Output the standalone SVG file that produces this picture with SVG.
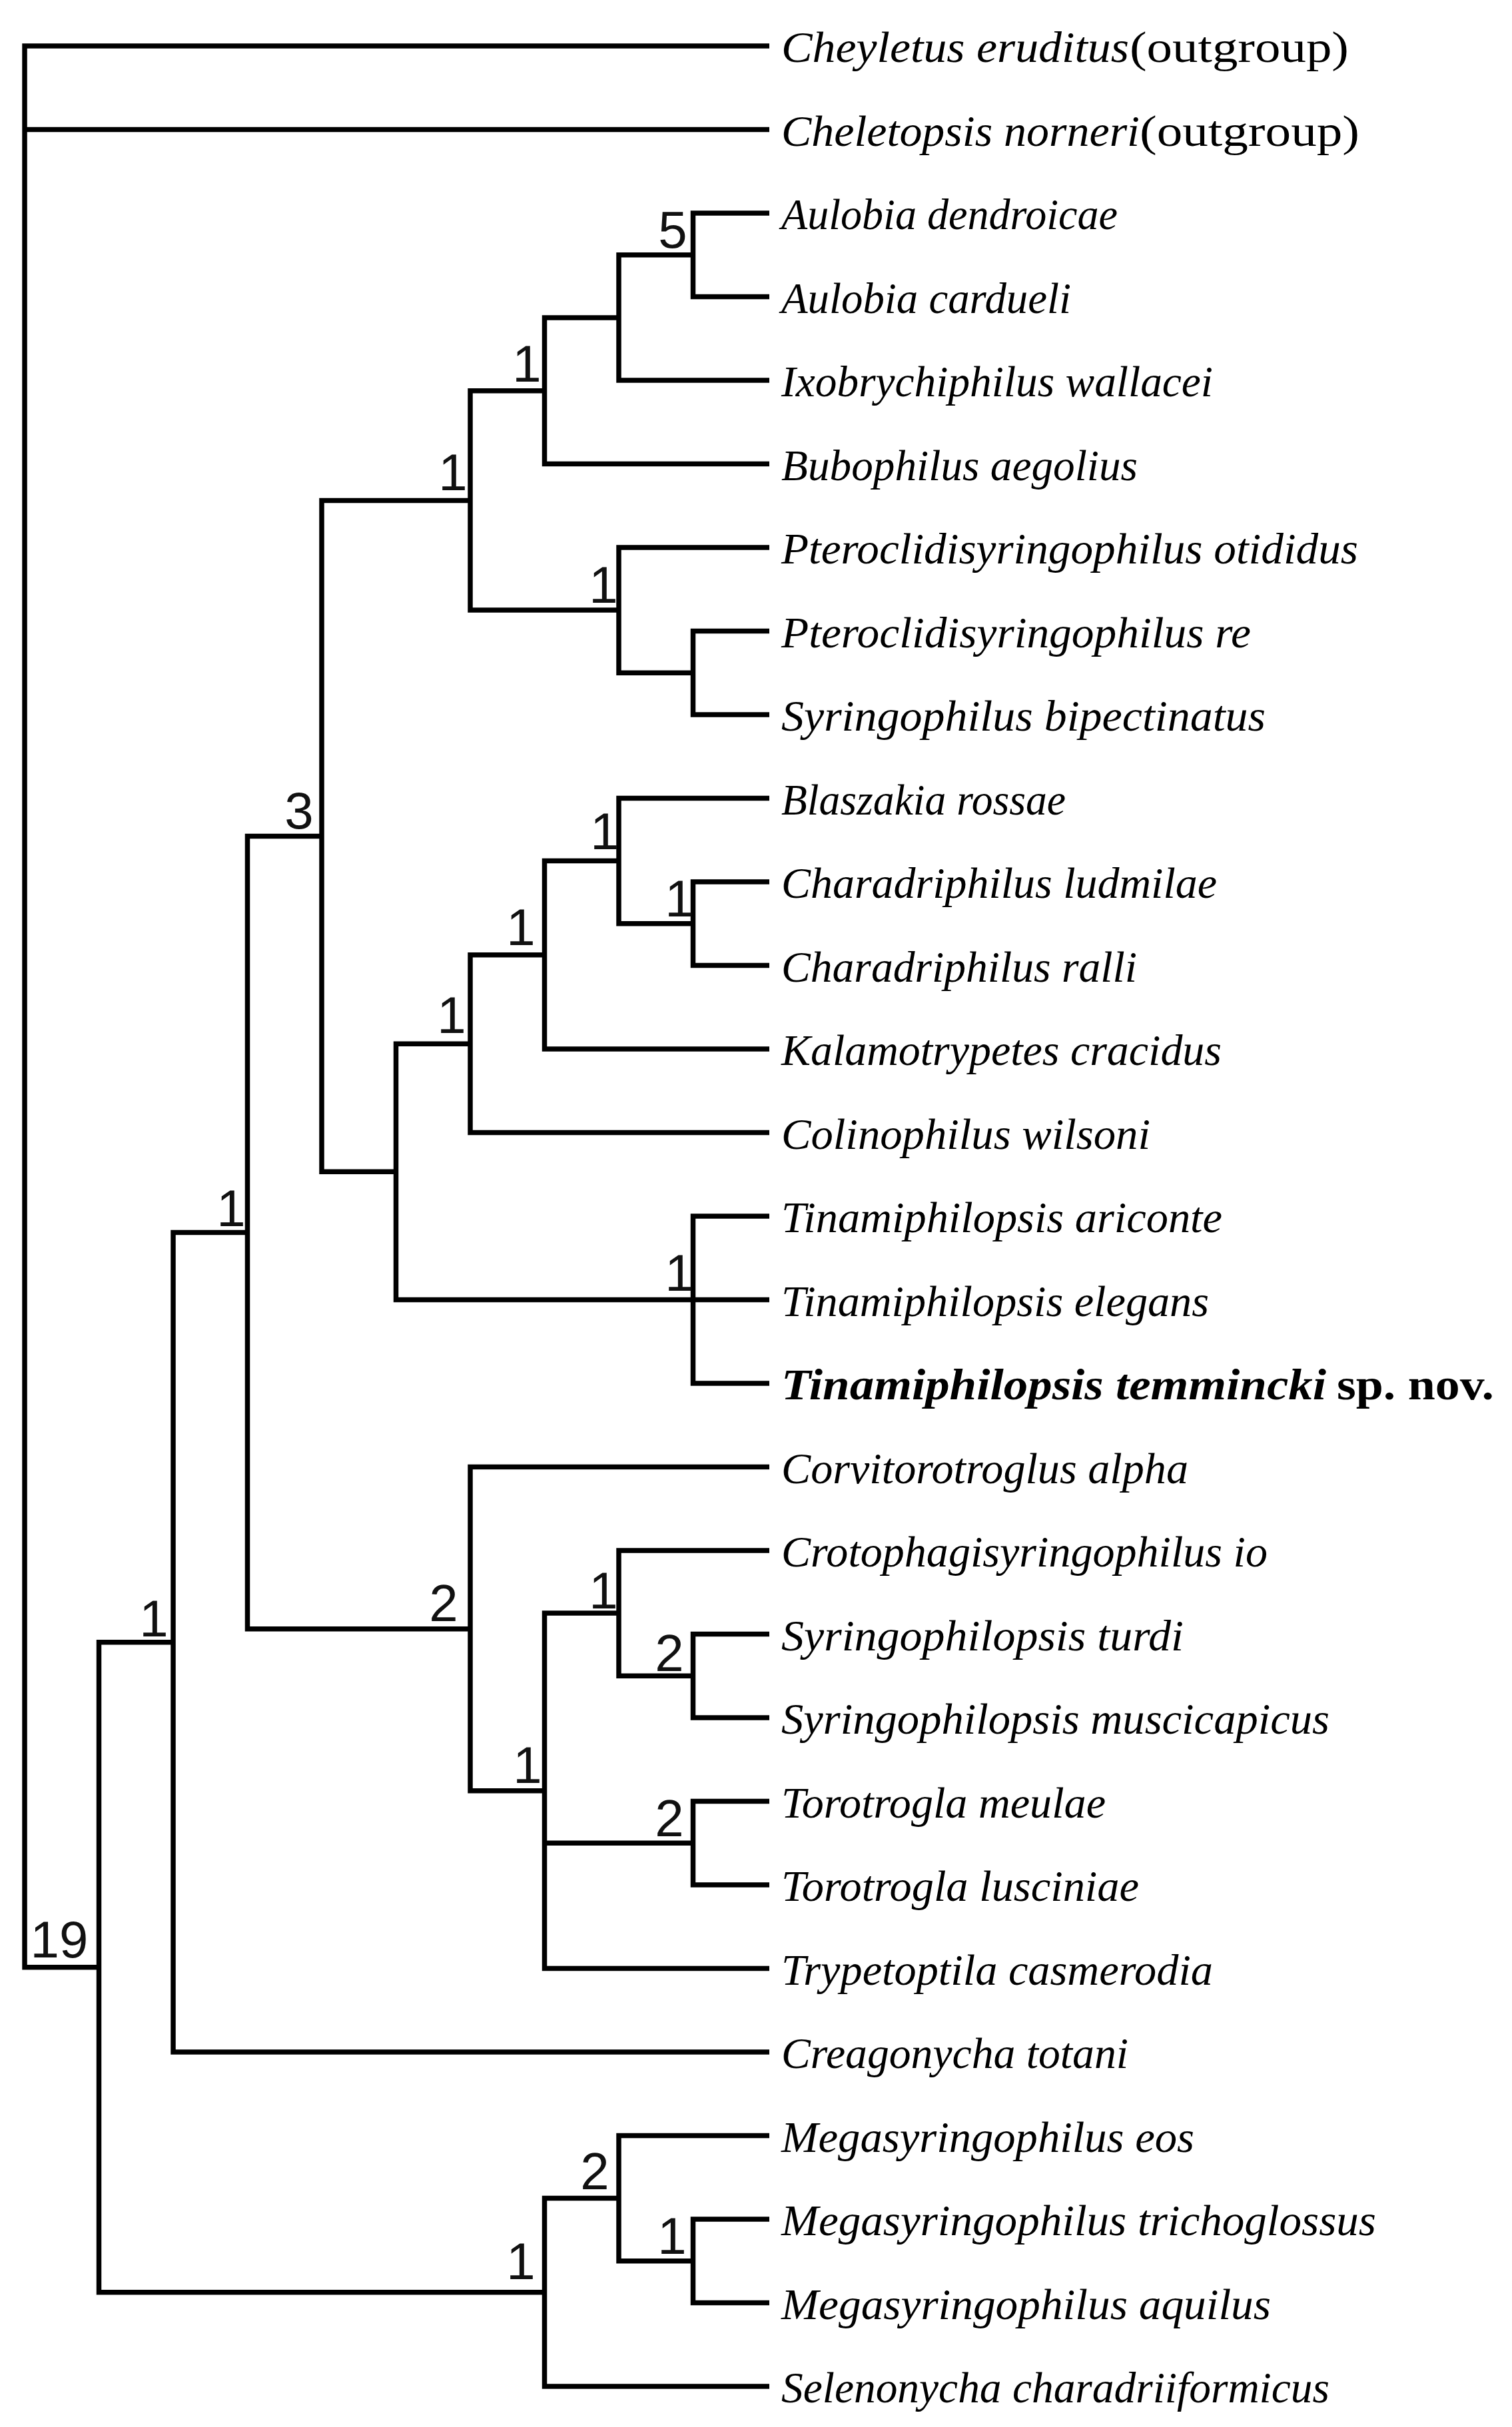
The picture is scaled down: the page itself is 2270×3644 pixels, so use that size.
<svg xmlns="http://www.w3.org/2000/svg" width="2270" height="3644" viewBox="0 0 2270 3644">
<style>
.e{fill:none;stroke:#000;stroke-width:7.5;stroke-linejoin:miter;stroke-linecap:butt}
.tx{font-family:"Liberation Serif","Times New Roman",serif;font-size:66px;font-style:italic;fill:#000}
.up{font-style:normal}
.bd{font-weight:bold}
.nl{font-family:"Liberation Sans",Arial,sans-serif;font-size:78px;fill:#111;text-anchor:middle}
</style>
<rect width="2270" height="3644" fill="#fff"/>
<g id="connectors">
<path class="e" d="M1155 69 H37 V2953.8 H148.5"/>
<path class="e" d="M37 194.5 H1155"/>
<path class="e" d="M260 2465.8 H148.5 V3441.8 H817.5"/>
<path class="e" d="M371.5 1850.5 H260 V3081 H1155"/>
<path class="e" d="M483 1255.4 H371.5 V2445.7 H706"/>
<path class="e" d="M706 751.4 H483 V1759.3 H594.5"/>
<path class="e" d="M817.5 586.7 H706 V916.1 H929"/>
<path class="e" d="M929 476.9 H817.5 V696.5 H1155"/>
<path class="e" d="M1040.5 382.75 H929 V571 H1155"/>
<path class="e" d="M1155 320 H1040.5 V445.5 H1155"/>
<path class="e" d="M1155 822 H929 V1010.25 H1040.5"/>
<path class="e" d="M1155 947.5 H1040.5 V1073 H1155"/>
<path class="e" d="M706 1567.2 H594.5 V1951.5 H1040.5"/>
<path class="e" d="M817.5 1433.8 H706 V1700.5 H1155"/>
<path class="e" d="M929 1292.6 H817.5 V1575 H1155"/>
<path class="e" d="M1155 1198.5 H929 V1386.75 H1040.5"/>
<path class="e" d="M1155 1324 H1040.5 V1449.5 H1155"/>
<path class="e" d="M1155 1826 H1040.5 V2077 H1155"/>
<path class="e" d="M1040.5 1951.5 H1155"/>
<path class="e" d="M1155 2202.5 H706 V2688.8 H817.5"/>
<path class="e" d="M929 2422.1 H817.5 V2955.5 H1155"/>
<path class="e" d="M817.5 2767.25 H1040.5"/>
<path class="e" d="M1155 2328 H929 V2516.25 H1040.5"/>
<path class="e" d="M1155 2453.5 H1040.5 V2579 H1155"/>
<path class="e" d="M1155 2704.5 H1040.5 V2830 H1155"/>
<path class="e" d="M929 3300.6 H817.5 V3583 H1155"/>
<path class="e" d="M1155 3206.5 H929 V3394.75 H1040.5"/>
<path class="e" d="M1155 3332 H1040.5 V3457.5 H1155"/>
</g>
<g id="leaf-0"><text class="tx" x="1173" y="93" textLength="522" lengthAdjust="spacingAndGlyphs">Cheyletus eruditus</text><text class="tx up" x="1696" y="93" textLength="329" lengthAdjust="spacingAndGlyphs">(outgroup)</text></g>
<g id="leaf-1"><text class="tx" x="1173" y="218.5" textLength="538" lengthAdjust="spacingAndGlyphs">Cheletopsis norneri</text><text class="tx up" x="1711" y="218.5" textLength="330" lengthAdjust="spacingAndGlyphs">(outgroup)</text></g>
<g id="leaf-2"><text class="tx" x="1173" y="344" textLength="505" lengthAdjust="spacingAndGlyphs">Aulobia dendroicae</text></g>
<g id="leaf-3"><text class="tx" x="1173" y="469.5" textLength="435" lengthAdjust="spacingAndGlyphs">Aulobia cardueli</text></g>
<g id="leaf-4"><text class="tx" x="1173" y="595" textLength="648" lengthAdjust="spacingAndGlyphs">Ixobrychiphilus wallacei</text></g>
<g id="leaf-5"><text class="tx" x="1173" y="720.5" textLength="535" lengthAdjust="spacingAndGlyphs">Bubophilus aegolius</text></g>
<g id="leaf-6"><text class="tx" x="1173" y="846" textLength="866" lengthAdjust="spacingAndGlyphs">Pteroclidisyringophilus otididus</text></g>
<g id="leaf-7"><text class="tx" x="1173" y="971.5" textLength="705" lengthAdjust="spacingAndGlyphs">Pteroclidisyringophilus re</text></g>
<g id="leaf-8"><text class="tx" x="1173" y="1097" textLength="727" lengthAdjust="spacingAndGlyphs">Syringophilus bipectinatus</text></g>
<g id="leaf-9"><text class="tx" x="1173" y="1222.5" textLength="427" lengthAdjust="spacingAndGlyphs">Blaszakia rossae</text></g>
<g id="leaf-10"><text class="tx" x="1173" y="1348" textLength="654" lengthAdjust="spacingAndGlyphs">Charadriphilus ludmilae</text></g>
<g id="leaf-11"><text class="tx" x="1173" y="1473.5" textLength="534" lengthAdjust="spacingAndGlyphs">Charadriphilus ralli</text></g>
<g id="leaf-12"><text class="tx" x="1173" y="1599" textLength="661" lengthAdjust="spacingAndGlyphs">Kalamotrypetes cracidus</text></g>
<g id="leaf-13"><text class="tx" x="1173" y="1724.5" textLength="554" lengthAdjust="spacingAndGlyphs">Colinophilus wilsoni</text></g>
<g id="leaf-14"><text class="tx" x="1173" y="1850" textLength="662" lengthAdjust="spacingAndGlyphs">Tinamiphilopsis ariconte</text></g>
<g id="leaf-15"><text class="tx" x="1173" y="1975.5" textLength="642" lengthAdjust="spacingAndGlyphs">Tinamiphilopsis elegans</text></g>
<g id="leaf-16"><text class="tx bd" x="1173" y="2101" textLength="818" lengthAdjust="spacingAndGlyphs">Tinamiphilopsis temmincki</text><text class="tx up bd" x="2007" y="2101" textLength="236" lengthAdjust="spacingAndGlyphs">sp. nov.</text></g>
<g id="leaf-17"><text class="tx" x="1173" y="2226.5" textLength="611" lengthAdjust="spacingAndGlyphs">Corvitorotroglus alpha</text></g>
<g id="leaf-18"><text class="tx" x="1173" y="2352" textLength="730" lengthAdjust="spacingAndGlyphs">Crotophagisyringophilus io</text></g>
<g id="leaf-19"><text class="tx" x="1173" y="2477.5" textLength="604" lengthAdjust="spacingAndGlyphs">Syringophilopsis turdi</text></g>
<g id="leaf-20"><text class="tx" x="1173" y="2603" textLength="823" lengthAdjust="spacingAndGlyphs">Syringophilopsis muscicapicus</text></g>
<g id="leaf-21"><text class="tx" x="1173" y="2728.5" textLength="487" lengthAdjust="spacingAndGlyphs">Torotrogla meulae</text></g>
<g id="leaf-22"><text class="tx" x="1173" y="2854" textLength="537" lengthAdjust="spacingAndGlyphs">Torotrogla lusciniae</text></g>
<g id="leaf-23"><text class="tx" x="1173" y="2979.5" textLength="648" lengthAdjust="spacingAndGlyphs">Trypetoptila casmerodia</text></g>
<g id="leaf-24"><text class="tx" x="1173" y="3105" textLength="521" lengthAdjust="spacingAndGlyphs">Creagonycha totani</text></g>
<g id="leaf-25"><text class="tx" x="1173" y="3230.5" textLength="620" lengthAdjust="spacingAndGlyphs">Megasyringophilus eos</text></g>
<g id="leaf-26"><text class="tx" x="1173" y="3356" textLength="893" lengthAdjust="spacingAndGlyphs">Megasyringophilus trichoglossus</text></g>
<g id="leaf-27"><text class="tx" x="1173" y="3481.5" textLength="735" lengthAdjust="spacingAndGlyphs">Megasyringophilus aquilus</text></g>
<g id="leaf-28"><text class="tx" x="1173" y="3607" textLength="823" lengthAdjust="spacingAndGlyphs">Selenonycha charadriiformicus</text></g>
<g id="node-aulobia"><text class="nl" x="1010" y="372">5</text></g>
<g id="node-bubophilus"><text class="nl" x="791" y="573">1</text></g>
<g id="node-p1"><text class="nl" x="680" y="736">1</text></g>
<g id="node-ptero"><text class="nl" x="906" y="905">1</text></g>
<g id="node-3"><text class="nl" x="449" y="1244">3</text></g>
<g id="node-blaszakia"><text class="nl" x="908" y="1275">1</text></g>
<g id="node-charadriphilus"><text class="nl" x="1020" y="1376">1</text></g>
<g id="node-kalamotrypetes"><text class="nl" x="782" y="1419">1</text></g>
<g id="node-colinophilus"><text class="nl" x="678" y="1551">1</text></g>
<g id="node-c"><text class="nl" x="347" y="1841">1</text></g>
<g id="node-tinamiphilopsis"><text class="nl" x="1020" y="1938">1</text></g>
<g id="node-b"><text class="nl" x="231" y="2457">1</text></g>
<g id="node-e"><text class="nl" x="666" y="2434">2</text></g>
<g id="node-crotophagi"><text class="nl" x="906" y="2415">1</text></g>
<g id="node-syringophilopsis"><text class="nl" x="1005" y="2509">2</text></g>
<g id="node-n7"><text class="nl" x="792" y="2677">1</text></g>
<g id="node-torotrogla"><text class="nl" x="1005" y="2757">2</text></g>
<g id="node-a"><text class="nl" x="89" y="2939">19</text></g>
<g id="node-mega1"><text class="nl" x="893" y="3287">2</text></g>
<g id="node-mega2"><text class="nl" x="1009" y="3384">1</text></g>
<g id="node-mega"><text class="nl" x="782" y="3422">1</text></g>
</svg>
